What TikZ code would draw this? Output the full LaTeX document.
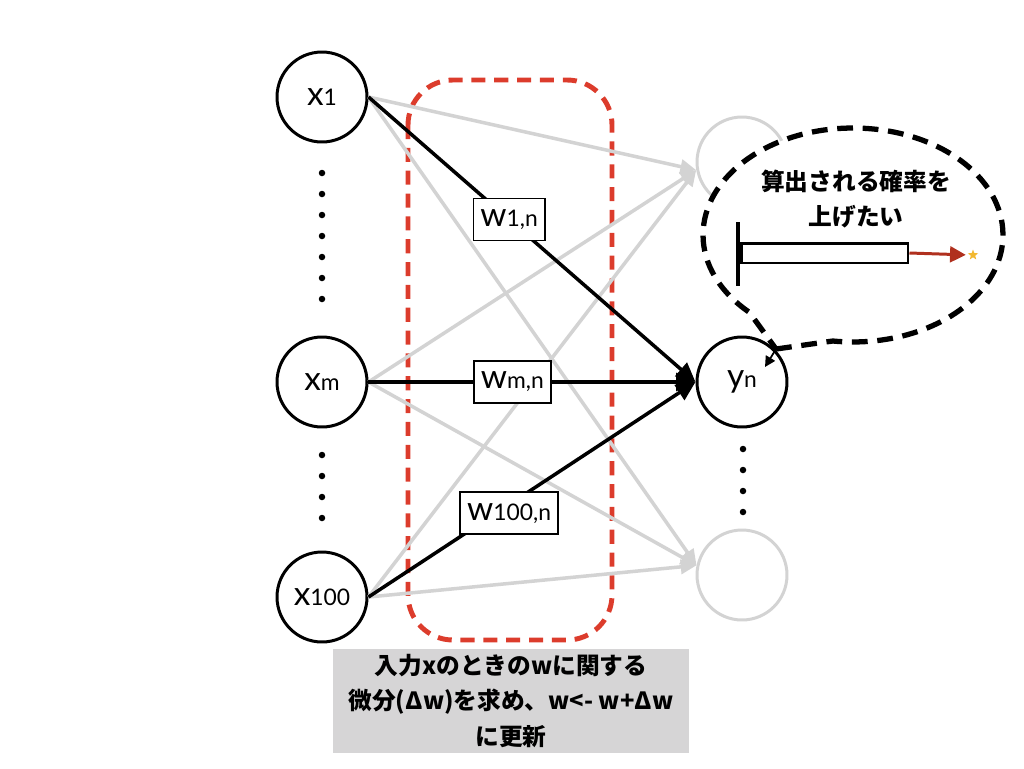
\documentclass[tikz,border=0pt]{standalone}
\usepackage{fontspec}
\setmainfont{Lato}
\newfontfamily\jp{Noto Sans CJK JP}
\usetikzlibrary{arrows.meta,shapes.geometric,shapes.callouts}

\definecolor{lightgr}{HTML}{D3D3D3}
\definecolor{dashred}{HTML}{DC3C2C}
\definecolor{darkred}{HTML}{B0301E}
\definecolor{staryel}{HTML}{F2B830}
\definecolor{notegr}{HTML}{D6D5D6}
\newcommand{\var}[2]{\fontsize{19}{19}\selectfont #1\fontsize{13}{13}\selectfont #2}

\begin{document}
\begin{tikzpicture}[x=0.02cm,y=-0.02cm,
  unit/.style={circle,draw,line width=1.7pt,minimum size=1.8cm,inner sep=0pt,fill=white},
  ghost/.style={unit,draw=lightgr},
  weak/.style={draw=lightgr,line width=2pt,-{Triangle[length=9pt,width=8pt]}},
  strong/.style={line width=2pt,-{Triangle[length=11pt,width=10pt]}},
  wbox/.style={draw,fill=white,line width=1pt,inner xsep=4pt,minimum height=0.84cm},
  jptext/.style={font=\jp\bfseries\fontsize{13.5}{20}\selectfont,align=center}]
\useasboundingbox (0,0) rectangle (1024,768);

\draw[dashred,line width=2.8pt,dash pattern=on 8pt off 5pt,rounded corners=0.9cm] (408,80) rectangle (612,640);

\node[unit] (x1) at (322,97) {\var{x}{1}};
\node[unit] (xm) at (322,382) {\var{x}{m}};
\node[unit] (x100) at (322,597) {\var{x}{100}};
\node[ghost] (top) at (742,162) {};
\node[unit] (yn) at (742,382) {\var{y}{n}};
\node[ghost] (bot) at (742,575) {};

\foreach \y in {173,194,...,299} \fill (322,\y) circle (0.065cm);
\foreach \y in {455,476,...,518} \fill (322,\y) circle (0.065cm);
\foreach \y in {449,470,...,512} \fill (743,\y) circle (0.065cm);

\foreach \s in {x1,xm,x100}{
  \draw[weak] (\s.east) -- (top.190);
  \draw[weak] (\s.east) -- (bot.168);
}

\draw[strong] (x1.east) -- node[wbox,pos=0.43] (w1) {\var{w}{1,n}} (yn.west);
\draw[strong] (xm.east) -- node[wbox,pos=0.44] (wm) {\var{w}{m,n}} (yn.west);
\draw[strong] (x100.east) -- node[wbox,pos=0.43,yshift=-5pt] (w100) {\var{w}{100,n}} (yn.west);

\coordinate (tip) at (776,349);
\coordinate (tipend) at (765,367);
\node[ellipse callout,draw,fill=white,line width=3pt,dash pattern=on 9pt off 5.5pt,
  minimum width=6cm,minimum height=4.28cm,callout absolute pointer={(tip)},
  callout pointer arc=36] (bubble) at (853,235) {};
\draw[line width=1pt,-{Triangle[length=6pt,width=6pt]}] (tip) -- (tipend);

\node[jptext] (goal) at (856,199) {算出される確率を\\上げたい};
\draw[line width=2.8pt] (738,222) -- (738,286);
\node[draw,fill=white,line width=1.7pt,minimum width=3.34cm,minimum height=0.4cm,inner sep=0pt] (bar) at (824.5,253) {};
\node[star,star points=5,star point ratio=2.4,fill=staryel,minimum size=0.22cm,inner sep=0pt] (star) at (973,255) {};
\draw[darkred,line width=1.7pt,-{Triangle[length=9pt,width=9pt]},shorten >=2pt] (bar.east) -- (star.west);

\node[jptext,fill=notegr,minimum width=7.14cm,minimum height=2.04cm] (note) at (511,701)
  {入力xのときのwに関する\\微分(Δw)を求め、w<- w+Δw\\に更新};
\end{tikzpicture}
\end{document}
